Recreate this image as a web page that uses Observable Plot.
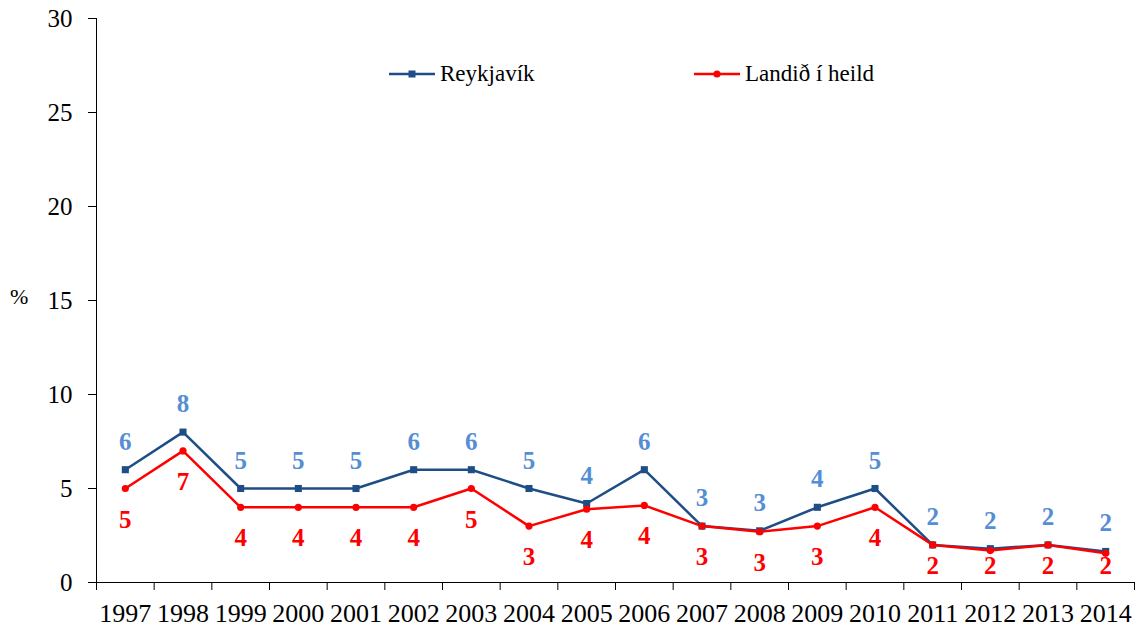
<!DOCTYPE html>
<html>
<head>
<meta charset="utf-8">
<script src="https://cdn.jsdelivr.net/npm/d3@7"></script>
<script src="https://cdn.jsdelivr.net/npm/@observablehq/plot@0.6"></script>
<style>
  html, body { margin: 0; padding: 0; background: #fff; }
  #wrap { position: relative; width: 1138px; height: 627px; font-family: "Liberation Serif", "Times New Roman", serif; }
  #pct { position: absolute; left: 10px; top: 284px; font-size: 22px; color: #000; }
  .leg { position: absolute; top: 60px; height: 28px; display: flex; align-items: center; font-size: 23px; color: #000; white-space: nowrap; }
  .leg svg { margin-right: 5px; }
</style>
</head>
<body>
<div id="wrap">
  <div id="chart"></div>
  <div id="pct">%</div>
  <div class="leg" style="left:389px;">
    <svg width="46" height="10"><line x1="0" y1="5" x2="46" y2="5" stroke="#1F4E86" stroke-width="2.5"/><rect x="19.5" y="1.5" width="7" height="7" fill="#1F4E86"/></svg>Reykjavík
  </div>
  <div class="leg" style="left:694px;">
    <svg width="46" height="10"><line x1="0" y1="5" x2="46" y2="5" stroke="#FF0000" stroke-width="2.5"/><circle cx="23" cy="5" r="3.6" fill="#FF0000"/></svg>Landið í heild
  </div>
</div>
<script>
const years = [1997,1998,1999,2000,2001,2002,2003,2004,2005,2006,2007,2008,2009,2010,2011,2012,2013,2014];
const reykjavik = [6,8,5,5,5,6,6,5,4.2,6,3.0,2.75,4,5,2.0,1.8,2.0,1.65];
const landid = [5,7,4,4,4,4,5,3.0,3.9,4.1,3.0,2.7,3.0,4,2.0,1.7,2.0,1.55];
const yTicks = [0,5,10,15,20,25,30];

const rData = years.map((yr, i) => ({i: i + 0.5, year: yr, v: reykjavik[i]}));
const lData = years.map((yr, i) => ({i: i + 0.5, year: yr, v: landid[i]}));

const font = '"Liberation Serif", "Times New Roman", serif';
const navy = "#1F4E86", light = "#558ED5", red = "#FF0000";

const chart = Plot.plot({
  width: 1138,
  height: 627,
  marginLeft: 96,
  marginRight: 4,
  marginTop: 18,
  marginBottom: 45,
  style: {fontFamily: font, background: "#fff", overflow: "visible"},
  x: {type: "linear", domain: [0, years.length]},
  y: {domain: [0, 30]},
  marks: [
    Plot.axisY({ticks: yTicks, tickSize: 8, tickPadding: 16, fontSize: 25, label: null, stroke: "#000", strokeOpacity: 1, fill: "#000"}),
    Plot.axisX({ticks: d3.range(years.length + 1), tickSize: 8, tickFormat: () => "", label: null, stroke: "#000", strokeOpacity: 1}),
    Plot.axisX({ticks: rData.map(d => d.i), tickSize: 0, tickPadding: 21, tickFormat: (t) => String(years[Math.floor(t)]), fontSize: 26, label: null, fill: "#000"}),
    Plot.ruleX([0], {stroke: "#000", strokeWidth: 1}),
    Plot.ruleY([0], {stroke: "#000", strokeWidth: 1}),
    Plot.line(rData, {x: "i", y: "v", stroke: navy, strokeWidth: 2.5}),
    Plot.line(lData, {x: "i", y: "v", stroke: red, strokeWidth: 2.5}),
    Plot.dot(rData, {x: "i", y: "v", symbol: "square", r: 4, fill: navy, stroke: null}),
    Plot.dot(lData, {x: "i", y: "v", symbol: "circle", r: 3.6, fill: red, stroke: null}),
    Plot.text(rData, {x: "i", y: "v", text: d => String(Math.round(d.v)), dy: -28, fill: light, fontWeight: "bold", fontSize: 25}),
    Plot.text(lData, {x: "i", y: d => Math.max(d.v - 1.65, 0.87), text: d => String(Math.round(d.v)), fill: red, fontWeight: "bold", fontSize: 25})
  ]
});
document.getElementById("chart").appendChild(chart);
</script>
</body>
</html>
